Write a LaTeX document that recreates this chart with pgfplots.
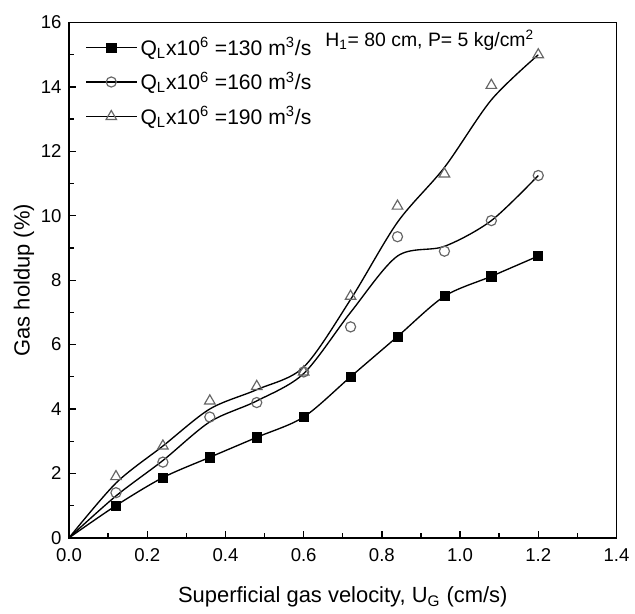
\documentclass[border=0pt]{standalone}
\usepackage{fontspec}
\setmainfont{Liberation Sans}
\usepackage{pgfplots}
\pgfplotsset{compat=1.18}

% measured gas holdup (%) vs superficial gas velocity (cm/s)
\pgfplotstableread{
x     q130  q160  q190
0.12  1.00  1.40  1.90
0.24  1.87  2.35  2.85
0.36  2.50  3.75  4.25
0.48  3.12  4.20  4.70
0.60  3.75  5.15  5.15
0.72  5.00  6.55  7.50
0.84  6.25  9.35  10.30
0.96  7.50  8.90  11.30
1.08  8.12  9.85  14.05
1.20  8.75  11.25 15.00
}\measured
% fitted curves
\pgfplotstableread{
x     c130  c160  c190
0.00  0.00  0.00  0.00
0.12  1.00  1.30  1.70
0.24  1.87  2.40  2.85
0.36  2.50  3.60  4.00
0.48  3.12  4.25  4.60
0.60  3.75  5.10  5.30
0.72  5.00  7.00  7.40
0.84  6.25  8.75  9.80
0.96  7.50  9.05  11.50
1.08  8.12  9.85  13.60
1.20  8.75  11.25 15.00
}\fitted

\begin{document}
\begin{tikzpicture}
\begin{axis}[
  name=main,
  scale only axis,
  width=11.4cm, height=10.73cm,
  xmin=0, xmax=1.4, ymin=0, ymax=16,
  xtick={0,0.2,0.4,0.6,0.8,1.0,1.2,1.4},
  ytick={0,2,4,6,8,10,12,14,16},
  minor x tick num=1, minor y tick num=1,
  tick pos=left, tick align=inside,
  major tick length=4pt, minor tick length=3pt,
  axis line style={line width=1pt},
  every tick/.style={black, line width=0.8pt},
  tick label style={font=\fontsize{11}{13}\selectfont},
  /pgf/number format/assume math mode=true,
  xticklabel style={yshift=-3pt, /pgf/number format/.cd, fixed, fixed zerofill, precision=1},
  yticklabel style={xshift=-1pt},
  xlabel={Superficial gas velocity, U\textsubscript{G} (cm/s)},
  ylabel={Gas holdup (\%)},
  xlabel style={yshift=-8pt},
  ylabel style={yshift=-3pt},
  label style={font=\fontsize{13}{15}\selectfont},
  legend style={draw=none, fill=none, at={(0.02,0.985)}, anchor=north west,
                font=\fontsize{12.5}{14}\selectfont, row sep=4.5pt},
  legend cell align=left,
  legend image code/.code={
    \draw[black, line width=0.8pt] (0cm,0cm) -- (1.05cm,0cm);
    \draw[#1] plot coordinates {(0.525cm,0cm)};
  },
]
\addplot[black, line width=0.8pt, smooth, forget plot] table[x=x, y=c130] {\fitted};
\addplot[black, line width=0.8pt, smooth, forget plot] table[x=x, y=c160] {\fitted};
\addplot[black, line width=0.8pt, smooth, forget plot] table[x=x, y=c190] {\fitted};

\addplot[only marks, mark=square*, mark size=2.7pt, mark options={draw=black, fill=black}]
  table[x=x, y=q130] {\measured};
\addlegendentry{Q\textsubscript{L}x10\textsuperscript{6} =130 m\textsuperscript{3}/s}
\addplot[only marks, mark=o, mark size=3pt, mark options={draw=gray!80!black, fill=white, line width=0.7pt}]
  table[x=x, y=q160] {\measured};
\addlegendentry{Q\textsubscript{L}x10\textsuperscript{6} =160 m\textsuperscript{3}/s}
\addplot[only marks, mark=triangle, mark size=3.6pt, mark options={draw=gray!80!black, fill=white, line width=0.7pt}]
  table[x=x, y=q190] {\measured};
\addlegendentry{Q\textsubscript{L}x10\textsuperscript{6} =190 m\textsuperscript{3}/s}

\node[anchor=west, font=\fontsize{11.5}{13}\selectfont] at (axis cs:0.64,15.45)
  {H\textsubscript{1}= 80 cm, P= 5 kg/cm\textsuperscript{2}};
\end{axis}
% white margins above the frame and left of the y label, as in the reference
\path (main.north) ++(0,0.47cm);
\path (current bounding box.west) ++(-0.17cm,0);
\end{tikzpicture}
\end{document}
